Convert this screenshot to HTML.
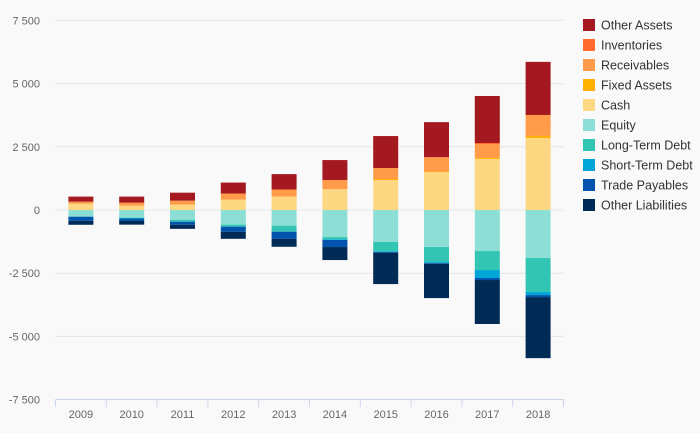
<!DOCTYPE html>
<html><head><meta charset="utf-8"><style>
body{margin:0;background:#f9f9f9;}
svg{display:block;font-family:"Liberation Sans","DejaVu Sans",sans-serif;}
</style></head><body>
<svg id="chart" width="700" height="433"></svg>
<script>
const categories=["2009","2010","2011","2012","2013","2014","2015","2016","2017","2018"];
const seriesNames=["Other Assets","Inventories","Receivables","Fixed Assets","Cash","Equity","Long-Term Debt","Short-Term Debt","Trade Payables","Other Liabilities"];
const cash=[250,170,210,410,530,830,1185,1500,2020,2850];
const fixedAssets=[0,0,0,0,0,0,40,25,50,80];
const receivables=[80,120,160,240,280,355,435,565,540,830];
const inventories=[0,0,0,0,0,0,0,0,40,0];
const otherAssets=[200,240,315,435,610,790,1265,1385,1860,2100];
const equity=[265,300,385,580,620,1070,1265,1465,1625,1900];
const longTermDebt=[0,15,80,80,240,90,370,595,750,1345];
const shortTermDebt=[0,25,0,0,0,25,25,40,315,120];
const tradePayables=[160,80,120,200,280,280,30,25,80,80];
const otherLiabilities=[160,160,160,280,315,515,1240,1360,1740,2415];
const yTicks=[-7500,-5000,-2500,0,2500,5000,7500];
const yTickLabels=["-7 500","-5 000","-2 500","0","2 500","5 000","7 500"];

const colors={"Other Assets":"#a3191f","Inventories":"#ff6a2e","Receivables":"#ff9b49","Fixed Assets":"#ffb000","Cash":"#fdd782","Equity":"#8ddfd5","Long-Term Debt":"#33c5b3","Short-Term Debt":"#00a6d8","Trade Payables":"#0054ad","Other Liabilities":"#002b57"};
const NS="http://www.w3.org/2000/svg";
const svg=document.getElementById('chart');
const x0=55.5,x1=563.5,band=(x1-x0)/categories.length,barW=25;
function yScale(v){return 210-v*63.2/2500;}
function xCenter(i){return x0+band*(i+0.5);}
function mk(t,a){const e=document.createElementNS(NS,t);for(const k in a)e.setAttribute(k,a[k]);svg.appendChild(e);return e;}

yTicks.forEach((t,i)=>{
  if(t>-7500){const g=mk('line',{x1:x0,x2:x1,y1:yScale(t),y2:yScale(t),stroke:'#e6e6e6','stroke-width':1});
  
  }
  const l=mk('text',{x:40,y:yScale(t)+4,'text-anchor':'end','font-size':11,fill:'#666'});
  l.textContent=yTickLabels[i];
  
  
});
const ax=mk('line',{x1:x0,x2:x1,y1:399.5,y2:399.5,stroke:'#ccd6eb','stroke-width':1});


for(let i=0;i<=categories.length;i++){
  const tk=mk('line',{x1:x0+band*i,x2:x0+band*i,y1:399.5,y2:407,stroke:'#ccd6eb','stroke-width':1});
  
  
}
categories.forEach((c,i)=>{
  const l=mk('text',{x:xCenter(i),y:418,'text-anchor':'middle','font-size':11,fill:'#666'});
  l.textContent=c;
  
  
});
const pos=[["Cash",cash],["Fixed Assets",fixedAssets],["Receivables",receivables],["Inventories",inventories],["Other Assets",otherAssets]];
const neg=[["Equity",equity],["Long-Term Debt",longTermDebt],["Short-Term Debt",shortTermDebt],["Trade Payables",tradePayables],["Other Liabilities",otherLiabilities]];
categories.forEach((c,i)=>{
  let acc=0;
  pos.forEach(([n,arr])=>{const v=arr[i];if(v<=0)return;
    const r=mk('rect',{x:xCenter(i)-barW/2,y:yScale(acc+v),width:barW,height:yScale(acc)-yScale(acc+v),fill:colors[n]});
    
    
    acc+=v;});
  acc=0;
  neg.forEach(([n,arr])=>{const v=arr[i];if(v<=0)return;
    const r=mk('rect',{x:xCenter(i)-barW/2,y:yScale(acc),width:barW,height:yScale(acc-v)-yScale(acc),fill:colors[n]});
    
    
    acc-=v;});
});
seriesNames.forEach((n,i)=>{
  const cy=25+i*20;
  const s=mk('rect',{x:583,y:cy-6,width:12,height:12,fill:colors[n]});
  
  
  const t=mk('text',{x:601,y:cy+4.5,'font-size':12.5,fill:'#333'});
  t.textContent=n;
  
  
});
</script>
</body></html>
